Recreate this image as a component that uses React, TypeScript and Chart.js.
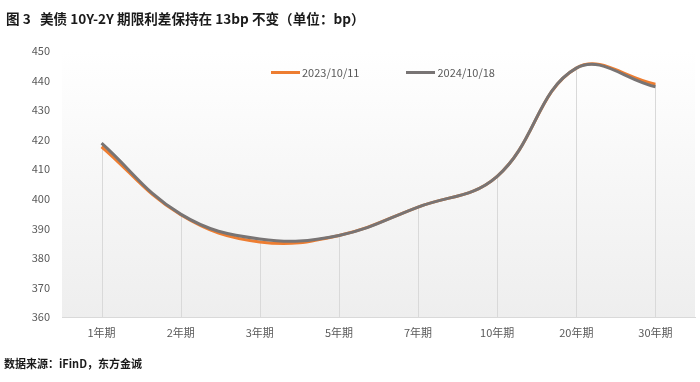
import React, { useEffect, useRef } from "react";
import { Chart, registerables } from "chart.js";

Chart.register(...registerables);

const categories = ["1年期", "2年期", "3年期", "5年期", "7年期", "10年期", "20年期", "30年期"];
const series2023 = [417.6, 394.6, 385.4, 387.6, 397.2, 407.6, 444.2, 438.8];
const series2024 = [418.8, 394.8, 386.4, 387.6, 397.2, 407.6, 444.2, 437.9];
const seriesLabels = ["2023/10/11", "2024/10/18"];
const seriesColors = ["#ED7D31", "#787474"];
const yMin = 360;
const yMax = 450;
const yStep = 10;

const titleText = "图 3\u00a0\u00a0\u00a0美债 10Y-2Y 期限利差保持在 13bp 不变（单位：bp）";
const sourceText = "数据来源：iFinD，东方金诚";

const FONT = "'Noto Sans CJK SC', 'Noto Sans', sans-serif";

const bgPlugin = {
  id: "bgGradient",
  beforeDraw(chart: any) {
    const { ctx, chartArea } = chart;
    if (!chartArea) return;
    const g = ctx.createLinearGradient(0, chartArea.top, 0, chartArea.bottom);
    g.addColorStop(0, "#ffffff");
    g.addColorStop(1, "#eeeeee");
    ctx.save();
    ctx.fillStyle = g;
    ctx.fillRect(chartArea.left, chartArea.top, chartArea.right - chartArea.left, chartArea.bottom - chartArea.top);
    ctx.restore();
  },
};

const dropLinePlugin = {
  id: "dropLines",
  beforeDatasetsDraw(chart: any) {
    const { ctx, chartArea } = chart;
    const meta0 = chart.getDatasetMeta(0);
    const meta1 = chart.getDatasetMeta(1);
    ctx.save();
    ctx.strokeStyle = "#d9d9d9";
    ctx.lineWidth = 1;
    meta0.data.forEach((pt: any, i: number) => {
      const p1 = meta1.data[i];
      const top = Math.min(pt.y, p1 ? p1.y : pt.y);
      const x = Math.round(pt.x) + 0.5;
      ctx.beginPath();
      ctx.moveTo(x, top);
      ctx.lineTo(x, chartArea.bottom);
      ctx.stroke();
    });
    ctx.restore();
  },
};

export default function App() {
  const ref = useRef<HTMLCanvasElement | null>(null);

  useEffect(() => {
    document.body.style.margin = "0";
    if (!ref.current) return;
    const chart = new Chart(ref.current, {
      type: "line",
      data: {
        labels: categories,
        datasets: [
          {
            label: seriesLabels[0],
            data: series2023,
            borderColor: seriesColors[0],
            backgroundColor: seriesColors[0],
            borderWidth: 3,
            pointRadius: 0,
            tension: 0.4,
            fill: false,
            order: 2,
          },
          {
            label: seriesLabels[1],
            data: series2024,
            borderColor: seriesColors[1],
            backgroundColor: seriesColors[1],
            borderWidth: 3,
            pointRadius: 0,
            tension: 0.4,
            fill: false,
            order: 1,
          },
        ],
      },
      options: {
        animation: false,
        responsive: false,
        maintainAspectRatio: false,
        layout: { padding: { top: 51, right: 5, left: 0, bottom: 0 } },
        plugins: {
          legend: { display: false },
          tooltip: { enabled: false },
        },
        scales: {
          x: {
            offset: true,
            grid: { display: false, drawTicks: false },
            border: { display: true, color: "#d9d9d9", width: 1 },
            ticks: {
              color: "#595959",
              font: { family: FONT, size: 11 },
              padding: 9,
              maxRotation: 0,
              autoSkip: false,
            },
            afterFit(scale: any) {
              scale.height = 65;
            },
          },
          y: {
            min: yMin,
            max: yMax,
            grid: { display: false, drawTicks: false },
            border: { display: false },
            ticks: {
              stepSize: yStep,
              color: "#595959",
              font: { family: FONT, size: 11 },
              padding: 12,
            },
            afterFit(scale: any) {
              scale.width = 62;
            },
          },
        },
      },
      plugins: [bgPlugin, dropLinePlugin],
    });
    return () => chart.destroy();
  }, []);

  return (
    <div style={{ position: "relative", width: 700, height: 382, background: "#fff", fontFamily: FONT }}>
      <canvas ref={ref} width={700} height={382} style={{ position: "absolute", left: 0, top: 0, width: 700, height: 382 }} />
      <div style={{ position: "absolute", left: 6, top: 8, fontSize: 13.6, fontWeight: 700, color: "#1a1a1a", whiteSpace: "pre", lineHeight: "20px" }}>
        {titleText}
      </div>
      <div style={{ position: "absolute", left: 271, top: 64, display: "flex", alignItems: "center", fontSize: 11, color: "#595959", lineHeight: "16px" }}>
        {seriesLabels.map((lab, i) => (
          <div key={lab} style={{ display: "flex", alignItems: "center", marginRight: i === 0 ? 47 : 0 }}>
            <span style={{ display: "inline-block", width: 29, height: 3, background: seriesColors[i], marginRight: 2 }} />
            <span>{lab}</span>
          </div>
        ))}
      </div>
      <div style={{ position: "absolute", left: 4, top: 354, fontSize: 11, fontWeight: 700, color: "#1a1a1a", lineHeight: "18px" }}>
        {sourceText}
      </div>
    </div>
  );
}
